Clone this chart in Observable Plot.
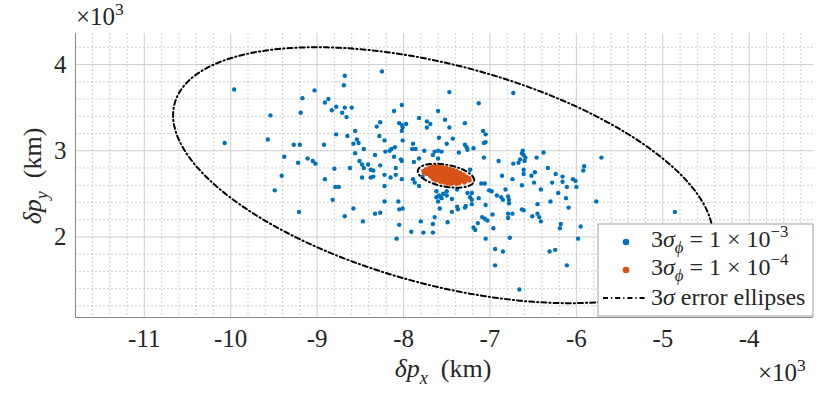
<!DOCTYPE html>
<html>
<head>
<meta charset="utf-8">
<script src="https://cdn.jsdelivr.net/npm/d3@7"></script>
<script src="https://cdn.jsdelivr.net/npm/@observablehq/plot@0.6"></script>
<style>
  html, body { margin: 0; padding: 0; background: #fff; }
  #chart { width: 830px; height: 394px; }
  #chart svg, #chart svg text, #chart svg tspan { font-family: "Liberation Serif", "DejaVu Serif", serif !important; }
</style>
</head>
<body>
<div id="chart"></div>
<script>
// ---- data (km) ----
const xTicks = [-11000, -10000, -9000, -8000, -7000, -6000, -5000, -4000];
const yTicks = [2000, 3000, 4000];
const xDomain = [-11796, -3256];
const yDomain = [1065, 4360];

// 3σφ = 1e-3 samples (δpx, δpy) in km
const blue = [
[-9960,3710],[-10070,3090],[-9540,3410],[-9570,3130],[-9410,2710],[-9380,2930],[-9270,3070],[-9200,3070],[-9220,2860],[-9170,3610],
[-9190,3440],[-9030,3700],[-9110,2910],[-9050,2880],[-9020,2850],[-8920,3070],[-8910,2670],[-8800,2790],[-8780,3190],[-8910,3560],
[-8870,3600],[-8830,3470],[-8780,3510],[-8710,3440],[-8660,3390],[-8680,3500],[-8600,3500],[-8690,3760],[-8680,3870],[-8650,3170],
[-8560,3230],[-8540,3130],[-8580,3080],[-8520,3090],[-8460,3020],[-8560,2970],[-8510,2880],[-8480,2840],[-8460,2800],[-8620,2800],
[-8410,2840],[-8380,2780],[-8350,2770],[-8480,2690],[-8380,2690],[-8350,2700],[-8330,2950],[-8310,3280],[-8280,3170],[-8270,3330],
[-8270,2830],
[-9490,2540],[-9210,2290],[-8790,2580],[-8750,2580],[-8820,2430],[-8680,2240],[-8580,2330],[-8470,2180],[-8330,2270],[-8270,2280],
[-8250,3920],[-7470,3680],[-6730,3670],[-7130,3550],[-8020,3530],[-8110,3460],[-7600,3460],[-7820,3380],
[-8050,3320],[-8020,3300],[-7970,3310],[-8020,3230],[-8010,3270],[-7730,3340],[-7690,3310],[-7730,3270],
[-7520,3360],[-7470,3270],[-7290,3320],[-8220,3120],[-8010,3120],[-7590,3150],[-7430,3140],[-7500,3080],
[-7890,3080],[-7900,3020],[-7860,3020],[-8100,3040],[-8140,3020],[-8160,3000],[-8210,2990],
[-7760,3000],[-7640,2990],[-7600,3000],[-7560,2990],[-7360,2980],[-7290,3070],[-7270,3040],[-7260,3010],[-7190,3030],
[-7080,3230],[-7050,3190],[-7050,3100],[-7070,3090],[-7070,2920],[-8110,2930],[-8030,2900],[-8020,2880],
[-7880,2870],[-7820,2910],[-7660,2950],[-7600,2910],[-8220,2720],[-8150,2690],[-8090,2720],[-8090,2800],[-7890,2670],
[-6900,2880],[-6730,2850],[-6670,2860],[-6650,2900],[-6620,3000],[-6610,2950],[-6630,2970],[-6590,2920],[-6600,2880],
[-6460,2920],[-6380,2980],[-6330,2800],[-6480,2750],[-6520,2710],[-6610,2780],[-6610,2730],[-6740,2670],[-6860,2710],
[-7230,2780],[-7370,2710],[-7680,2710],
[-8020,2670],[-7870,2630],[-7780,2700],[-8220,2590],[-7820,2590],
[-7620,2530],[-7590,2480],[-7570,2470],[-7540,2500],[-7620,2460],[-7560,2450],[-7600,2410],[-7500,2530],[-7500,2480],
[-7440,2440],[-7380,2550],[-7260,2510],[-7210,2510],[-7210,2430],[-7230,2460],[-7130,2450],[-7100,2620],[-7060,2620],
[-7010,2540],[-6980,2530],[-6920,2480],[-6870,2460],[-6850,2430],[-6790,2470],[-6820,2550],[-6780,2390],[-6780,2430],
[-6490,2630],[-6410,2550],[-6630,2600],[-8220,2410],[-8060,2410],[-8050,2320],[-8010,2330],
[-8050,2140],[-8080,1980],[-7910,2060],[-7800,2180],[-7770,2050],[-7660,2050],[-7660,2150],[-7640,2230],[-7580,2330],
[-7490,2170],[-7440,2290],[-7380,2350],[-7370,2320],[-7280,2360],[-7290,2340],[-7210,2380],
[-7090,2230],[-7060,2210],[-7030,2190],[-7140,2160],[-7190,2110],[-7170,2080],[-7050,1980],[-7050,2370],[-6970,2260],[-6960,2100],
[-6940,1860],[-6850,1830],[-6940,1670],[-6790,2270],[-6740,2270],[-6790,2220],[-6770,1990],[-6630,2320],[-6610,2310],
[-6510,2240],[-6450,2270],[-6430,2230],[-6410,2180],[-6450,2380],[-6310,1830],[-6660,1390],
[-5710,2920],[-6240,2730],[-6160,2700],[-6160,2640],[-6280,2630],[-6040,2670],[-6010,2650],[-5910,2820],[-5920,2770],
[-6110,2580],[-6000,2580],[-6210,2510],[-6120,2450],[-6300,2410],[-6090,2340],[-5770,2410],[-6180,2150],[-6190,2100],
[-5950,2120],[-5980,1980],[-6245,1850],[-6110,1670],[-4860,2290]
];

// 3σφ = 1e-4 samples (δpx, δpy) in km
const orange = [
[-7770,2765],[-7765,2745],
[-7740,2785],[-7745,2760],[-7735,2730],
[-7700,2805],[-7695,2780],[-7710,2755],[-7700,2730],[-7690,2705],
[-7665,2815],[-7655,2790],[-7670,2765],[-7660,2740],[-7655,2715],[-7670,2690],[-7655,2670],
[-7625,2820],[-7615,2800],[-7635,2775],[-7625,2750],[-7615,2725],[-7635,2700],[-7615,2675],[-7625,2655],
[-7585,2815],[-7575,2795],[-7595,2770],[-7585,2745],[-7575,2715],[-7595,2690],[-7585,2665],[-7575,2640],
[-7545,2810],[-7535,2785],[-7555,2760],[-7545,2735],[-7535,2705],[-7555,2680],[-7545,2655],[-7535,2630],
[-7505,2800],[-7495,2775],[-7515,2750],[-7505,2720],[-7495,2695],[-7515,2670],[-7505,2645],[-7495,2620],
[-7465,2790],[-7455,2765],[-7475,2740],[-7465,2715],[-7455,2690],[-7475,2660],[-7465,2635],[-7455,2615],
[-7425,2780],[-7415,2755],[-7435,2730],[-7425,2700],[-7415,2675],[-7435,2650],[-7425,2625],
[-7385,2765],[-7375,2740],[-7395,2715],[-7385,2690],[-7375,2660],[-7395,2635],[-7385,2615],
[-7345,2745],[-7335,2720],[-7355,2695],[-7345,2670],[-7335,2645],[-7355,2625],
[-7305,2725],[-7295,2700],[-7315,2675],[-7305,2650],[-7295,2630],
[-7270,2700],[-7260,2675],[-7280,2650],
[-7240,2680],[-7235,2655]
];

// 3σ error ellipses: centre and covariance (km, km²)
const ellipseCx  = [-7544, -7509];
const ellipseCy  = [2716, 2710];
const ellipseSxx = [9.752e6, 1.063e5];
const ellipseSyy = [2.205e6, 1.93e4];
const ellipseSxy = [-2.174e6, -1.70e4];

// ---- build ellipse outlines ----
const ellipsePts = [];
ellipseCx.forEach((cx, i) => {
  const l11 = Math.sqrt(ellipseSxx[i]);
  const l21 = ellipseSxy[i] / l11;
  const l22 = Math.sqrt(ellipseSyy[i] - l21 * l21);
  d3.range(0, 241).forEach(k => {
    const t = (k / 240) * 2 * Math.PI;
    ellipsePts.push({id: i, x: cx + l11 * Math.cos(t), y: ellipseCy[i] + l21 * Math.cos(t) + l22 * Math.sin(t)});
  });
});

const minorX = d3.range(-11800, -3200, 200).filter(v => !xTicks.includes(v));
const minorY = d3.range(1200, 4400, 200).filter(v => !yTicks.includes(v));

const BLUE = "#0072BD", ORANGE = "#D95319";
const DASH = "5,3,1.2,3";
const FONT = "'Liberation Serif', 'DejaVu Serif', serif";

const chart = Plot.plot({
  width: 830,
  height: 394,
  marginLeft: 75,
  marginRight: 17,
  marginTop: 33,
  marginBottom: 77,
  x: {domain: xDomain, label: null},
  y: {domain: yDomain, label: null},
  style: {background: "white", color: "#262626"},
  marks: [
    Plot.gridX(minorX, {stroke: "#c4c4c4", strokeOpacity: 1, strokeDasharray: "2,2", strokeWidth: 0.8}),
    Plot.gridY(minorY, {stroke: "#c4c4c4", strokeOpacity: 1, strokeDasharray: "2,2", strokeWidth: 0.8}),
    Plot.gridX(xTicks, {stroke: "#cfcfcf", strokeOpacity: 1, strokeWidth: 1}),
    Plot.gridY(yTicks, {stroke: "#cfcfcf", strokeOpacity: 1, strokeWidth: 1}),
    Plot.axisX({ticks: xTicks, tickFormat: d => String(d / 1000), tickSize: 0, tickPadding: 12, label: null, fontSize: 25}),
    Plot.axisY({ticks: yTicks, tickFormat: d => String(d / 1000), tickSize: 0, tickPadding: 9, label: null, fontSize: 25}),
    Plot.ruleX([xDomain[0]], {stroke: "#8c8c8c", strokeWidth: 1}),
    Plot.ruleY([yDomain[0]], {stroke: "#8c8c8c", strokeWidth: 1}),
    Plot.dot(blue, {x: d => d[0], y: d => d[1], r: 2.2, fill: BLUE, stroke: "none"}),
    Plot.dot(orange, {x: d => d[0], y: d => d[1], r: 2.2, fill: ORANGE, stroke: "none"}),
    Plot.line(ellipsePts, {x: "x", y: "y", z: "id", stroke: "black", strokeWidth: 2, strokeDasharray: DASH})
  ]
});
document.getElementById("chart").appendChild(chart);

const svg = d3.select(chart);
svg.selectAll("g[aria-label$='tick label'] text")
  .style("font-size", "25px")
  .style("font-family", FONT);

// ---- math-style text helper ----
function mathText(parent, x, y, parts, size, anchor) {
  const t = parent.append("text").attr("x", x).attr("y", y)
    .style("font-family", FONT).style("font-size", size + "px").attr("fill", "#262626")
    .attr("text-anchor", anchor || "start");
  let shift = 0;
  parts.forEach(p => {
    const target = p.sub ? 0.25 * size : p.sup ? -0.42 * size : 0;
    const fs = (p.sub || p.sup) ? size * 0.7 : size;
    const s = t.append("tspan").text(p.t)
      .attr("dy", target - shift)
      .style("font-size", fs + "px");
    if (p.it) s.style("font-style", "italic");
    shift = target;
  });
  return t;
}

// exponent labels
mathText(svg, 76, 25, [{t: "×10"}, {t: "3", sup: true}], 25);
mathText(svg, 758, 381, [{t: "×10"}, {t: "3", sup: true}], 25);

// axis labels
mathText(svg, 443, 377, [{t: "δp", it: true}, {t: "x", it: true, sub: true}, {t: "\u2002(km)"}], 26, "middle");
const yl = svg.append("g").attr("transform", "translate(41,176) rotate(-90)");
mathText(yl, 0, 0, [{t: "δp", it: true}, {t: "y", it: true, sub: true}, {t: "\u2002(km)"}], 26, "middle");

// legend
const lg = svg.append("g");
lg.append("rect").attr("x", 598).attr("y", 224).attr("width", 215).attr("height", 92)
  .attr("fill", "white").attr("stroke", "#a0a0a0").attr("stroke-width", 1);
lg.append("circle").attr("cx", 626).attr("cy", 242).attr("r", 3.3).attr("fill", BLUE);
lg.append("circle").attr("cx", 626).attr("cy", 270).attr("r", 3.3).attr("fill", ORANGE);
lg.append("line").attr("x1", 603).attr("x2", 645).attr("y1", 298).attr("y2", 298)
  .attr("stroke", "black").attr("stroke-width", 2).attr("stroke-dasharray", DASH);
mathText(lg, 651, 247, [{t: "3"}, {t: "σ", it: true}, {t: "ϕ", it: true, sub: true}, {t: " = 1 × 10"}, {t: "−3", sup: true}], 24);
mathText(lg, 651, 275, [{t: "3"}, {t: "σ", it: true}, {t: "ϕ", it: true, sub: true}, {t: " = 1 × 10"}, {t: "−4", sup: true}], 24);
mathText(lg, 651, 305, [{t: "3"}, {t: "σ", it: true}, {t: " error ellipses"}], 24);
</script>
</body>
</html>
